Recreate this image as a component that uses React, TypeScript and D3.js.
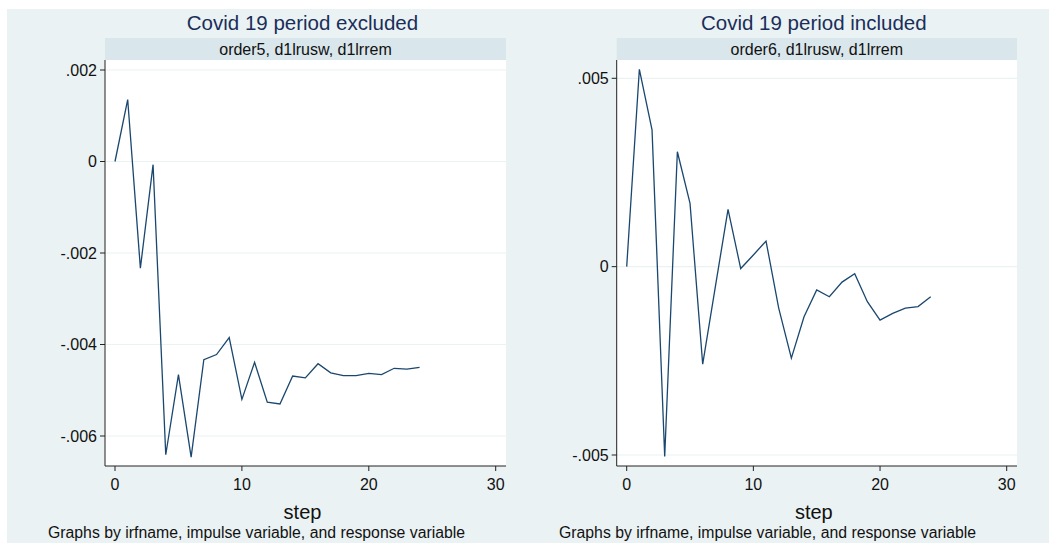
import * as d3 from 'd3';
import React from 'react';

// impulse response values, step 0..24
const steps = d3.range(0, 25);

const excludedIrf = [
  0, 0.001355, -0.00233, -0.00007, -0.00641, -0.00466, -0.00646, -0.00433, -0.00422,
  -0.00385, -0.0052, -0.00439, -0.00526, -0.0053, -0.00469, -0.00473, -0.00442,
  -0.00462, -0.00468, -0.00468, -0.00463, -0.00466, -0.00452, -0.00454, -0.0045,
];

const includedIrf = [
  0, 0.00524, 0.00363, -0.00504, 0.00305, 0.00168, -0.00259, -0.00053, 0.00152,
  -0.00005, 0.00031, 0.00068, -0.0011, -0.00243, -0.00133, -0.00062, -0.0008,
  -0.00041, -0.00019, -0.00093, -0.00142, -0.00124, -0.0011, -0.00106, -0.0008,
];

const xTicks = [0, 10, 20, 30];
const excludedYTicks = [0.002, 0, -0.002, -0.004, -0.006];
const includedYTicks = [0.005, 0, -0.005];

const fmt = (v: number) => {
  if (v === 0) return '0';
  const s = Math.abs(v).toString().replace(/^0/, '');
  return (v < 0 ? '-' : '') + s;
};

const FONT = '"Liberation Sans", Arial, Helvetica, sans-serif';
const BG = '#eaf2f3';
const STRIP = '#d9e6eb';
const LINE = '#1a476f';

type PanelProps = {
  left: number;
  right: number;
  title: string;
  strip: string;
  values: number[];
  yTicks: number[];
  yTop: number; // pixel of first tick
  yBottom: number; // pixel of last tick
  noteX: number;
};

const Panel = (p: PanelProps) => {
  const top = 60;
  const bottom = 466;
  const x = d3.scaleLinear().domain([0, 30]).range([p.left + 10, p.right - 10.3]);
  const y = d3.scaleLinear()
    .domain([p.yTicks[0], p.yTicks[p.yTicks.length - 1]])
    .range([p.yTop, p.yBottom]);

  const line = d3.line<number>()
    .x((d, i) => x(steps[i]))
    .y((d) => y(d));

  const cx = (p.left + p.right) / 2;

  return (
    <g>
      <text x={cx - 3} y={30} textAnchor="middle" fontSize={20.5} fill="#1a2e5a" fontFamily={FONT}>
        {p.title}
      </text>
      <rect x={p.left} y={38} width={p.right - p.left} height={22} fill={STRIP} />
      <text x={cx} y={54.5} textAnchor="middle" fontSize={16} fill="#111" fontFamily={FONT}>
        {p.strip}
      </text>
      <rect x={p.left} y={top} width={p.right - p.left} height={bottom - top} fill="#fff" />
      {p.yTicks.map((t) => (
        <line key={'g' + t} x1={p.left} x2={p.right} y1={y(t)} y2={y(t)} stroke={BG} strokeWidth={1.2} />
      ))}
      <path d={line(p.values) || ''} fill="none" stroke={LINE} strokeWidth={1.3} strokeLinejoin="miter" />
      <line x1={p.left} x2={p.left} y1={top} y2={bottom} stroke="#222" strokeWidth={1} />
      <line x1={p.left} x2={p.right} y1={bottom} y2={bottom} stroke="#222" strokeWidth={1} />
      {p.yTicks.map((t) => (
        <g key={'y' + t}>
          <line x1={p.left - 5} x2={p.left} y1={y(t)} y2={y(t)} stroke="#222" />
          <text x={p.left - 8} y={y(t) + 5.5} textAnchor="end" fontSize={16} fill="#111" fontFamily={FONT}>
            {fmt(t)}
          </text>
        </g>
      ))}
      {xTicks.map((t) => (
        <g key={'x' + t}>
          <line x1={x(t)} x2={x(t)} y1={bottom} y2={bottom + 5} stroke="#222" />
          <text x={x(t)} y={489.5} textAnchor="middle" fontSize={16} fill="#111" fontFamily={FONT}>
            {t}
          </text>
        </g>
      ))}
      <text x={cx - 3} y={519} textAnchor="middle" fontSize={20} fill="#111" fontFamily={FONT}>
        step
      </text>
      <text x={p.noteX} y={538} fontSize={15.8} fill="#111" fontFamily={FONT}>
        Graphs by irfname, impulse variable, and response variable
      </text>
    </g>
  );
};

export default function App() {
  return (
    <svg width={1049} height={543} style={{ position: 'absolute', left: 0, top: 0 }}>
      <rect x={0} y={0} width={1049} height={543} fill="#fff" />
      <rect x={7} y={9} width={1042} height={534} fill={BG} />
      <Panel
        left={105}
        right={506}
        title="Covid 19 period excluded"
        strip="order5, d1lrusw, d1lrrem"
        values={excludedIrf}
        yTicks={excludedYTicks}
        yTop={70}
        yBottom={436}
        noteX={48}
      />
      <Panel
        left={616.7}
        right={1017}
        title="Covid 19 period included"
        strip="order6, d1lrusw, d1lrrem"
        values={includedIrf}
        yTicks={includedYTicks}
        yTop={78.3}
        yBottom={455}
        noteX={559}
      />
    </svg>
  );
}
